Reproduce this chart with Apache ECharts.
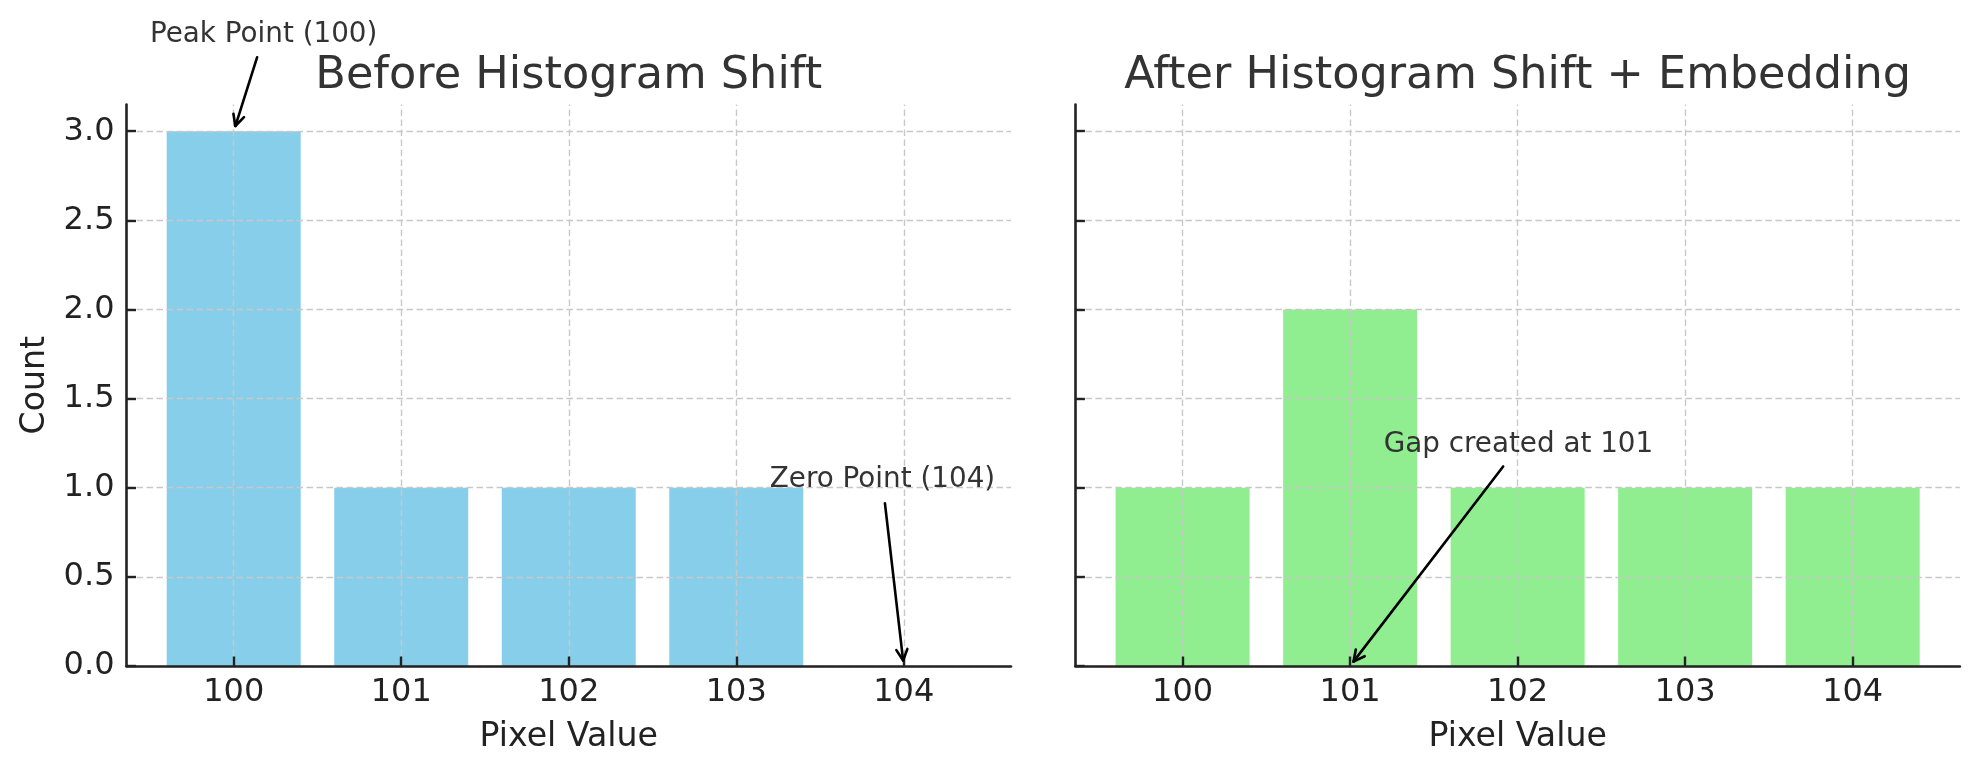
<!DOCTYPE html>
<html><head><meta charset="utf-8">
<script src="https://cdn.jsdelivr.net/npm/echarts@6/dist/echarts.min.js"></script>
<style>html,body{margin:0;padding:0;background:#fff}#c{width:1979px;height:774px}</style>
</head><body><div id="c"></div>
<script>
// ---- data ----
const categories = ['100', '101', '102', '103', '104'];
const beforeCounts = [3, 1, 1, 1, 0];
const afterCounts = [1, 2, 1, 1, 1];
const xTickPositions = [0, 1, 2, 3, 4];
const yTicks = [0, 0.5, 1.0, 1.5, 2.0, 2.5, 3.0];
const panelTitles = ['Before Histogram Shift', 'After Histogram Shift + Embedding'];
const annotations = [
  { panel: 0, text: 'Peak Point (100)', xy: [0, 3], xytext: [-0.5, 3.5] },
  { panel: 0, text: 'Zero Point (104)', xy: [4, 0], xytext: [3.2, 1.0] },
  { panel: 1, text: 'Gap created at 101', xy: [1, 0], xytext: [1.2, 1.2] }
];

// ---- layout / style ----
const X_MIN = -0.64, X_MAX = 4.64, Y_MAX = 3.15;
const GRID_LEFT = [126.5, 1075.4], GRID_TOP = 104.5, GRID_W = 884.5, GRID_H = 561.5;
const FONT = 'DejaVu Sans';
const PT = 197 / 72;
const TICK_FS = 32, LABEL_FS = 33.2, TITLE_FS = 44.6, ANN_FS = 27.8;
const BASE_SHIFT = 0.27;
const colors = ['#87CEEB', '#90EE90'];
const seriesData = [beforeCounts, afterCounts];
const axisColor = '#222222';
const gridLine = { color: '#c8c8c8', type: [6.5, 3.5], width: 1.4 };

const chart = echarts.init(document.getElementById('c'), null, { renderer: 'canvas' });

const grids = GRID_LEFT.map(l => ({ left: l, top: GRID_TOP, width: GRID_W, height: GRID_H }));
const xAxes = [0, 1].map(i => ({
  type: 'value', gridIndex: i, min: X_MIN, max: X_MAX, z: 5,
  name: 'Pixel Value', nameLocation: 'middle', nameGap: 55,
  nameTextStyle: { fontSize: LABEL_FS, color: axisColor, fontFamily: FONT },
  axisLine: { show: true, onZero: false, lineStyle: { color: axisColor, width: 2.6 } },
  axisTick: { show: true, inside: true, length: 9.5, lineStyle: { color: axisColor, width: 2.4 }, customValues: xTickPositions },
  axisLabel: { show: true, margin: 11, fontSize: TICK_FS, color: axisColor, fontFamily: FONT,
    customValues: xTickPositions, formatter: v => categories[Math.round(v)] || '' },
  splitLine: { show: false }
}));
const yAxes = [0, 1].map(i => ({
  type: 'value', gridIndex: i, min: 0, max: Y_MAX, z: 5,
  name: i === 0 ? 'Count' : '', nameLocation: 'middle', nameGap: 75,
  nameTextStyle: { fontSize: LABEL_FS, color: axisColor, fontFamily: FONT },
  axisLine: { show: true, onZero: false, lineStyle: { color: axisColor, width: 2.6 } },
  axisTick: { show: true, inside: true, length: 9.5, lineStyle: { color: axisColor, width: 2.4 }, customValues: yTicks },
  axisLabel: { show: i === 0, margin: 12, fontSize: TICK_FS, color: axisColor, fontFamily: FONT,
    customValues: yTicks, formatter: v => v.toFixed(1) },
  splitLine: { show: false }
}));
const series = [0, 1].map(i => ({
  type: 'bar', xAxisIndex: i, yAxisIndex: i, silent: true,
  data: seriesData[i].map((v, k) => [xTickPositions[k], v]),
  barWidth: GRID_W / (X_MAX - X_MIN) * 0.8,
  itemStyle: { color: colors[i] },
  markLine: {
    silent: true, animation: false, symbol: ['none', 'none'], label: { show: false },
    lineStyle: gridLine, emphasis: { disabled: true },
    data: [...xTickPositions.map(v => ({ xAxis: v })), ...yTicks.map(v => ({ yAxis: v }))]
  }
}));

chart.setOption({ animation: false, backgroundColor: '#ffffff', grid: grids, xAxis: xAxes, yAxis: yAxes, series });

// ---- titles & annotations ----
const ctx = document.createElement('canvas').getContext('2d');
function measure(t, fs) { ctx.font = fs + 'px "' + FONT + '"'; return ctx.measureText(t).width; }
const elements = [];
panelTitles.forEach((t, i) => {
  const baseline = GRID_TOP - 6 * PT;
  elements.push({ type: 'text', x: GRID_LEFT[i] + GRID_W / 2, y: baseline - BASE_SHIFT * TITLE_FS, z: 10,
    style: { text: t, fontSize: TITLE_FS, fontFamily: FONT, fill: '#333333', align: 'center', verticalAlign: 'middle' } });
});
annotations.forEach(a => {
  const [tx, ty] = chart.convertToPixel({ gridIndex: a.panel }, a.xytext);
  const [ex, ey] = chart.convertToPixel({ gridIndex: a.panel }, a.xy);
  const w = measure(a.text, ANN_FS);
  const x0 = tx, x1 = tx + w, y0 = ty - 0.76 * ANN_FS, y1 = ty + 0.36 * ANN_FS;
  const cx = (x0 + x1) / 2, cy = (y0 + y1) / 2;
  const dx = ex - cx, dy = ey - cy, L = Math.hypot(dx, dy), ux = dx / L, uy = dy / L;
  const tX = dx > 0 ? (x1 - cx) / dx : dx < 0 ? (x0 - cx) / dx : Infinity;
  const tY = dy > 0 ? (y1 - cy) / dy : dy < 0 ? (y0 - cy) / dy : Infinity;
  const t = Math.min(tX, tY);
  const shrink = 2 * PT;
  const sx = cx + dx * t + ux * shrink, sy = cy + dy * t + uy * shrink;
  const px = ex - ux * shrink, py = ey - uy * shrink;
  const hl = 0.4 * ANN_FS, hw = 0.2 * ANN_FS;
  const bx = px - ux * hl, by = py - uy * hl;
  const stroke = { stroke: '#000000', lineWidth: 2.6, fill: null, lineCap: 'round', lineJoin: 'round' };
  elements.push({ type: 'polyline', z: 10, silent: true, shape: { points: [[sx, sy], [px, py]] }, style: stroke });
  elements.push({ type: 'polyline', z: 10, silent: true,
    shape: { points: [[bx - uy * hw, by + ux * hw], [px, py], [bx + uy * hw, by - ux * hw]] }, style: stroke });
  elements.push({ type: 'text', z: 10, silent: true, x: tx, y: ty - BASE_SHIFT * ANN_FS,
    style: { text: a.text, fontSize: ANN_FS, fontFamily: FONT, fill: '#333333', align: 'left', verticalAlign: 'middle' } });
});
chart.setOption({ graphic: { elements } });
</script>
</body></html>
